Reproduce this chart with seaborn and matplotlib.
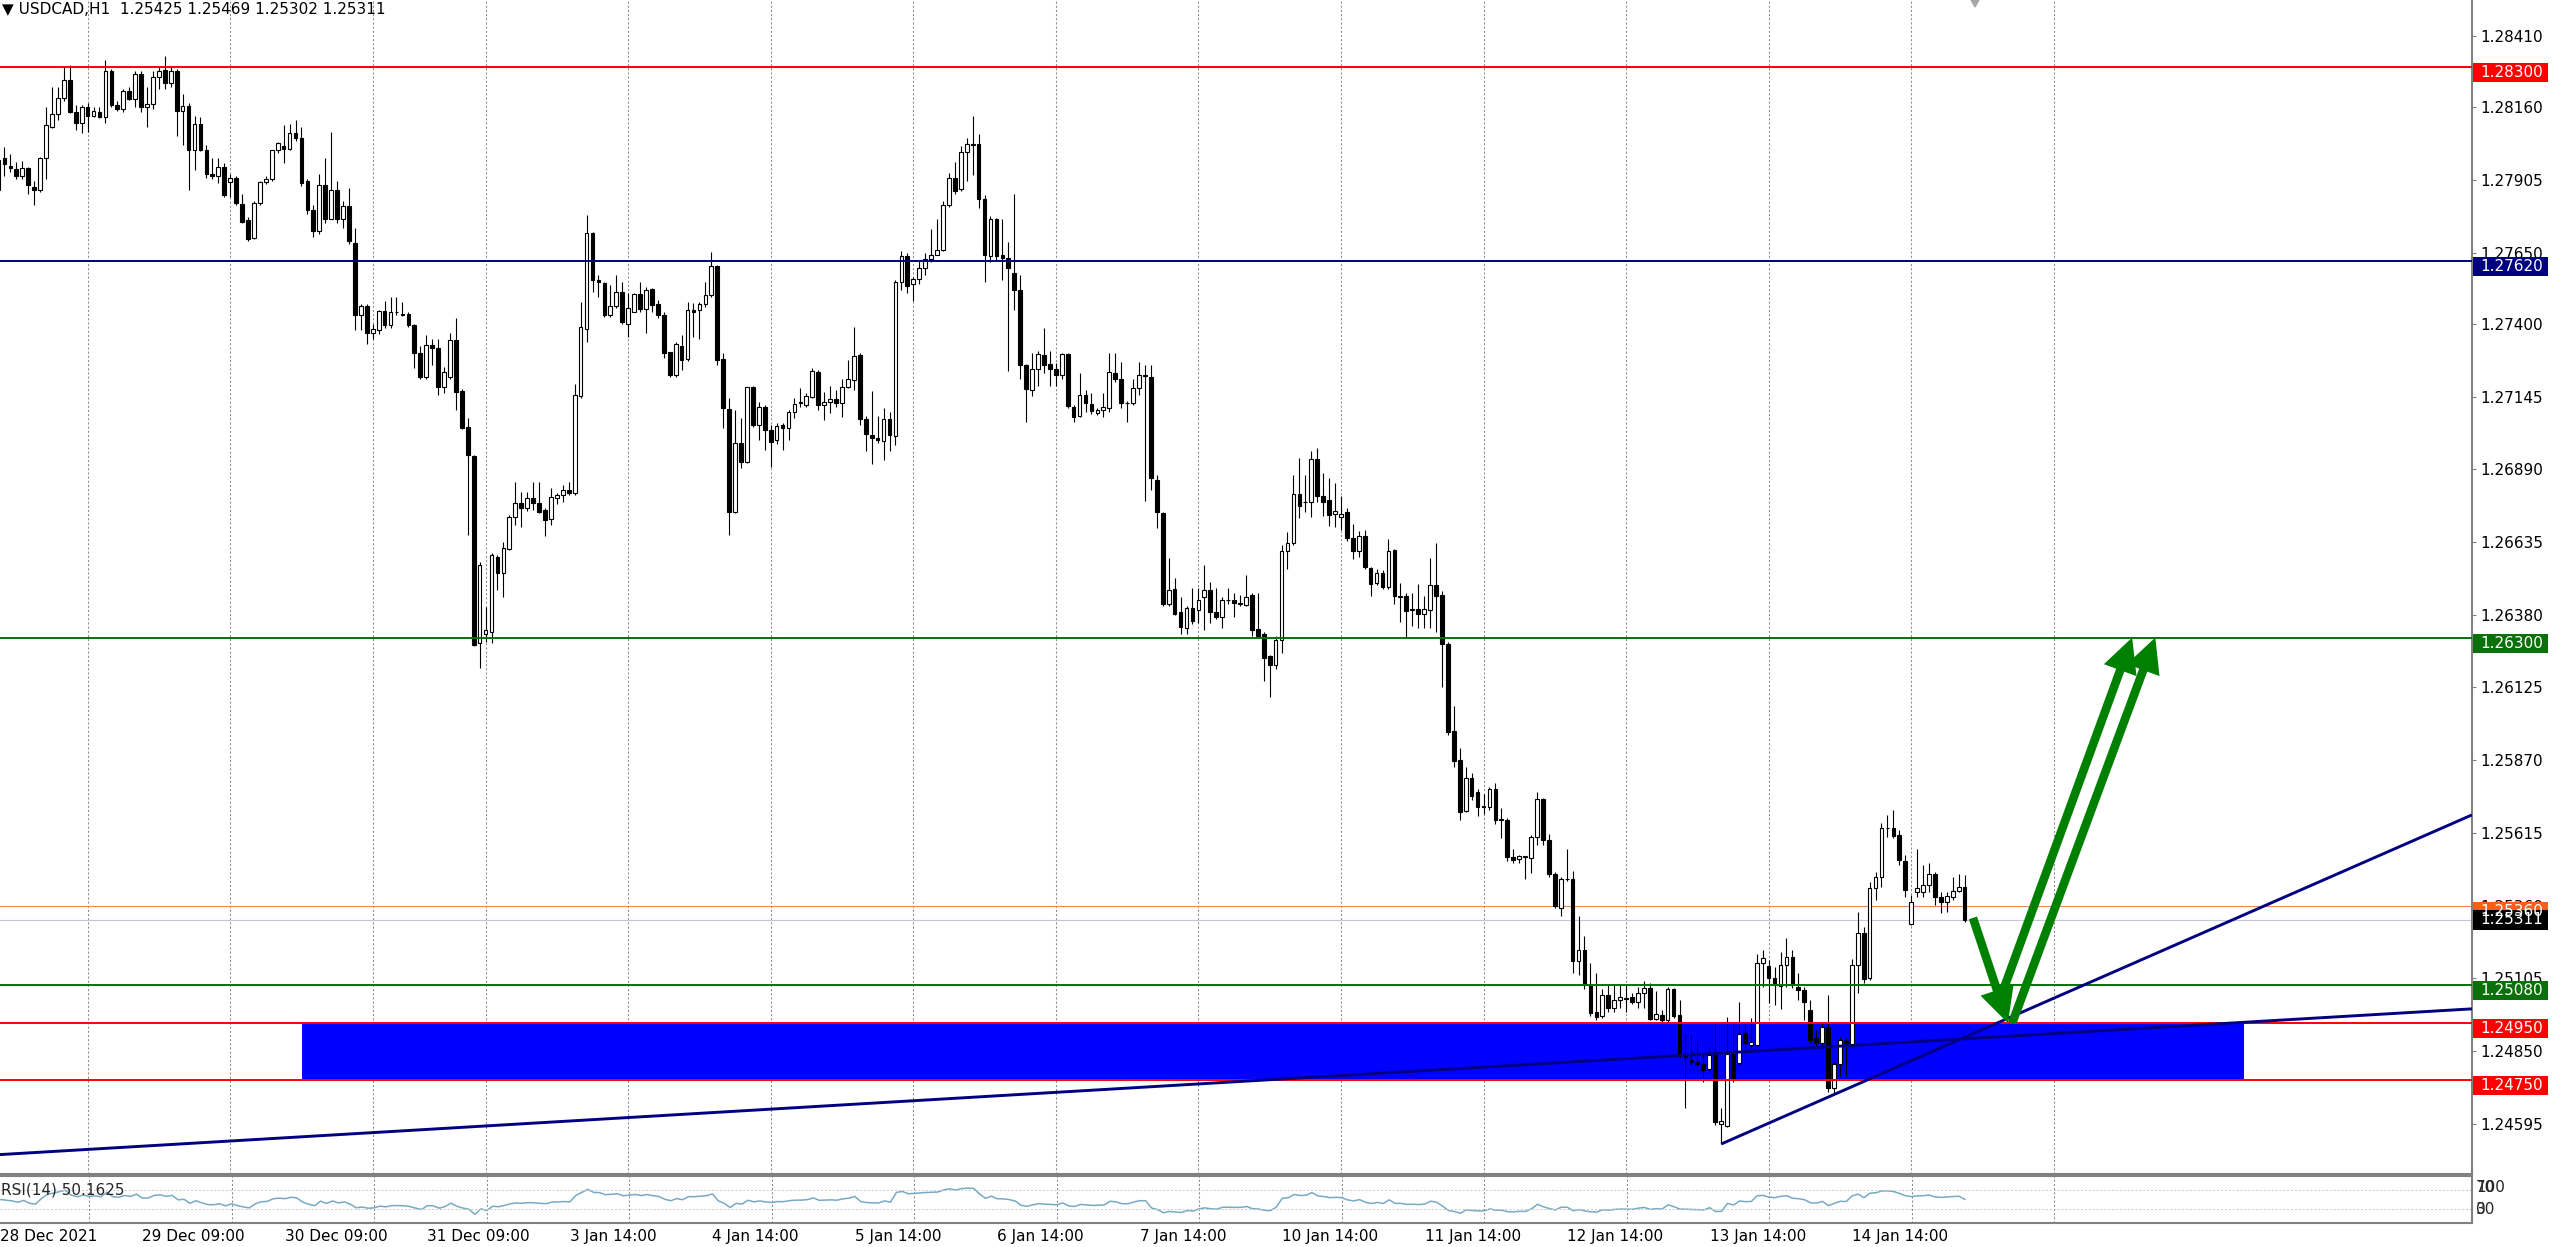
import numpy as np
import pandas as pd
import seaborn as sns
import matplotlib
matplotlib.use("Agg")
import matplotlib.pyplot as plt
from matplotlib.patches import Rectangle, FancyArrowPatch, Polygon

# USDCAD H1 bars, 28 Dec 2021 .. 14 Jan 2022
# prices are in points above 1.20000 (1 point = 0.00001)
opens = [
    7870, 7980, 7955, 7943, 7917, 7946, 7881, 7870, 7980, 8090, 8136, 8191,
    8254, 8144, 8105, 8160, 8128, 8144, 8125, 8285, 8168, 8155, 8215, 8190,
    8277, 8160, 8170, 8266, 8290, 8245, 8285, 8147, 8165, 8011, 8100, 8011,
    7925, 7920, 7950, 7897, 7912, 7820, 7765, 7700, 7823, 7897, 7909, 8008,
    8022, 8014, 8069, 8052, 7900, 7800, 7725, 7886, 7768, 7870, 7768, 7812,
    7682, 7432, 7463, 7369, 7377, 7444, 7396, 7440, 7434, 7436, 7396, 7299,
    7213, 7326, 7314, 7180, 7215, 7345, 7166, 7040, 6936, 6280, 6312, 6320,
    6584, 6525, 6609, 6724, 6773, 6753, 6788, 6773, 6747, 6715, 6788, 6800,
    6817, 6806, 7147, 7381, 7717, 7554, 7542, 7431, 7463, 7513, 7400, 7443,
    7503, 7451, 7521, 7469, 7431, 7300, 7220, 7322, 7276, 7448, 7448, 7470,
    7501, 7603, 7275, 7100, 6741, 6981, 6917, 7177, 7045, 7110, 7028, 6992,
    7045, 7034, 7092, 7127, 7116, 7145, 7232, 7116, 7127, 7138, 7121, 7178,
    7203, 7289, 7065, 7011, 6998, 6990, 7068, 7007, 7545, 7639, 7539, 7556,
    7595, 7626, 7643, 7660, 7815, 7913, 7872, 8002, 8032, 8032, 7837, 7639,
    7766, 7643, 7630, 7578, 7517, 7254, 7169, 7241, 7289, 7260, 7241, 7219,
    7295, 7107, 7076, 7150, 7120, 7089, 7098, 7104, 7228, 7208, 7124, 7124,
    7176, 7219, 7215, 6852, 6735, 6417, 6469, 6388, 6333, 6404, 6397, 6443,
    6466, 6391, 6371, 6432, 6430, 6419, 6414, 6449, 6330, 6311, 6235, 6204,
    6290, 6602, 6631, 6802, 6775, 6777, 6927, 6798, 6781, 6734, 6722, 6741,
    6648, 6602, 6655, 6545, 6490, 6526, 6476, 6608, 6445, 6447, 6397, 6399,
    6382, 6397, 6483, 6450, 6276, 5972, 5872, 5692, 5806, 5760, 5706, 5706,
    5768, 5660, 5660, 5531, 5523, 5531, 5528, 5600, 5735, 5589, 5471, 5353,
    5453, 5453, 5167, 5205, 5081, 4987, 4973, 5045, 5002, 5028, 5034, 5038,
    5023, 5052, 5070, 4962, 4976, 4959, 5066, 4976, 4836, 4819, 4813, 4805,
    4786, 4836, 4594, 4587, 4840, 4809, 4914, 4871, 4871, 5160, 5148, 5105,
    5078, 5152, 5179, 5076, 5064, 4994, 4895, 4877, 4935, 4719, 4805, 4886,
    4871, 5152, 5263, 5105, 5421, 5459, 5631, 5631, 5607, 5518, 5295, 5409,
    5409, 5432, 5471, 5389, 5374, 5391, 5412, 5425,
]
highs = [
    8019, 8020, 7995, 7969, 7972, 7950, 7901, 7985, 8160, 8230, 8230, 8300,
    8308, 8168, 8168, 8175, 8160, 8160, 8325, 8293, 8180, 8225, 8230, 8285,
    8285, 8230, 8285, 8300, 8340, 8300, 8293, 8206, 8175, 8128, 8125, 8027,
    7980, 7980, 7965, 7925, 7917, 7855, 7776, 7831, 7902, 7920, 8011, 8038,
    8097, 8101, 8115, 8089, 7909, 7815, 7925, 7980, 8074, 7901, 7830, 7878,
    7737, 7471, 7471, 7400, 7448, 7479, 7494, 7494, 7475, 7440, 7400, 7322,
    7361, 7346, 7346, 7250, 7367, 7419, 7170, 7069, 6940, 6566, 6408, 6595,
    6590, 6636, 6730, 6847, 6812, 6812, 6847, 6847, 6753, 6823, 6806, 6835,
    6847, 7189, 7478, 7782, 7723, 7571, 7548, 7536, 7571, 7548, 7507, 7507,
    7545, 7530, 7524, 7483, 7443, 7302, 7337, 7361, 7478, 7472, 7478, 7548,
    7653, 7606, 7299, 7139, 7098, 7069, 7180, 7182, 7127, 7116, 7045, 7054,
    7054, 7098, 7139, 7174, 7156, 7244, 7238, 7162, 7182, 7168, 7208, 7273,
    7390, 7299, 7078, 7163, 7078, 7104, 7091, 7552, 7656, 7649, 7565, 7623,
    7649, 7733, 7766, 7831, 7929, 7967, 8025, 8051, 8129, 8064, 7850, 7779,
    7772, 7766, 7688, 7854, 7571, 7260, 7299, 7306, 7387, 7306, 7263, 7299,
    7299, 7117, 7228, 7169, 7159, 7104, 7156, 7296, 7299, 7267, 7130, 7208,
    7267, 7254, 7254, 6871, 6741, 6579, 6508, 6443, 6410, 6475, 6475, 6553,
    6495, 6475, 6443, 6475, 6456, 6449, 6521, 6456, 6456, 6319, 6240, 6304,
    6626, 6669, 6870, 6931, 6870, 6955, 6963, 6877, 6860, 6841, 6798, 6755,
    6698, 6673, 6676, 6548, 6540, 6536, 6645, 6612, 6493, 6455, 6455, 6486,
    6447, 6579, 6630, 6462, 6283, 6061, 5911, 5846, 5825, 5768, 5753, 5775,
    5789, 5703, 5667, 5560, 5538, 5534, 5606, 5758, 5739, 5610, 5477, 5460,
    5560, 5481, 5324, 5252, 5159, 5124, 5066, 5081, 5081, 5081, 5081, 5052,
    5074, 5095, 5088, 5059, 4995, 5073, 5070, 5029, 4912, 4906, 4888, 4836,
    4865, 4947, 4649, 4968, 4953, 5023, 4947, 4965, 5192, 5204, 5169, 5146,
    5198, 5245, 5204, 5122, 5076, 5029, 4924, 4947, 5046, 4813, 4900, 4895,
    5172, 5339, 5286, 5444, 5479, 5651, 5678, 5695, 5625, 5538, 5397, 5557,
    5502, 5508, 5479, 5409, 5409, 5459, 5471, 5469,
]
lows = [
    7823, 7917, 7933, 7909, 7909, 7855, 7815, 7862, 7909, 8085, 8113, 8180,
    8140, 8081, 8069, 8074, 8125, 8120, 8105, 8160, 8145, 8144, 8185, 8160,
    8144, 8090, 8152, 8222, 8222, 8230, 8058, 8027, 7870, 7940, 8005, 7912,
    7909, 7895, 7845, 7846, 7815, 7753, 7690, 7698, 7815, 7890, 7900, 8000,
    7964, 8008, 8040, 7885, 7784, 7706, 7714, 7753, 7768, 7753, 7737, 7680,
    7377, 7377, 7330, 7346, 7365, 7385, 7385, 7432, 7427, 7390, 7244, 7205,
    7205, 7256, 7150, 7156, 7207, 7098, 7030, 6660, 6270, 6192, 6286, 6280,
    6466, 6443, 6607, 6694, 6689, 6745, 6747, 6735, 6656, 6695, 6770, 6777,
    6800, 6800, 7140, 7337, 7513, 7495, 7425, 7425, 7455, 7400, 7355, 7440,
    7440, 7367, 7440, 7420, 7280, 7215, 7215, 7238, 7270, 7355, 7346, 7460,
    7495, 7256, 7034, 6660, 6735, 6893, 6912, 7040, 6992, 6958, 6899, 6980,
    6958, 6992, 7069, 7110, 7110, 7140, 7098, 7063, 7086, 7110, 7075, 7175,
    7169, 7046, 6955, 6907, 6981, 6923, 6955, 6975, 7519, 7507, 7481, 7539,
    7571, 7617, 7643, 7655, 7810, 7857, 7865, 7902, 7922, 7807, 7545, 7617,
    7623, 7552, 7234, 7448, 7208, 7055, 7146, 7182, 7228, 7182, 7182, 7208,
    7104, 7055, 7072, 7091, 7085, 7081, 7072, 7091, 7195, 7104, 7055, 7117,
    7150, 6780, 6819, 6683, 6410, 6410, 6378, 6313, 6313, 6346, 6352, 6326,
    6352, 6365, 6333, 6417, 6371, 6410, 6410, 6307, 6300, 6147, 6092, 6190,
    6247, 6540, 6625, 6719, 6741, 6722, 6777, 6726, 6691, 6688, 6676, 6640,
    6576, 6583, 6540, 6445, 6483, 6469, 6469, 6419, 6355, 6297, 6340, 6333,
    6333, 6333, 6318, 6125, 5960, 5846, 5660, 5689, 5732, 5675, 5682, 5696,
    5646, 5596, 5517, 5510, 5510, 5453, 5474, 5574, 5574, 5460, 5353, 5324,
    5446, 5124, 5116, 5066, 4973, 4959, 4966, 4987, 4987, 5002, 4987, 5016,
    5002, 5002, 4959, 4959, 4952, 4952, 4966, 4830, 4649, 4801, 4795, 4742,
    4778, 4591, 4526, 4585, 4742, 4800, 4865, 4860, 4865, 5076, 5017, 5011,
    4999, 5076, 5070, 5029, 4959, 4877, 4865, 4865, 4708, 4704, 4762, 4760,
    4865, 5052, 5087, 5099, 5380, 5426, 5599, 5596, 5502, 5391, 5292, 5391,
    5391, 5409, 5362, 5333, 5339, 5380, 5409, 5302,
]
closes = [
    7975, 7960, 7947, 7917, 7948, 7886, 7868, 7980, 8097, 8136, 8191, 8254,
    8144, 8105, 8160, 8128, 8146, 8125, 8285, 8168, 8155, 8215, 8190, 8277,
    8160, 8170, 8266, 8288, 8245, 8285, 8147, 8165, 8011, 8100, 8011, 7925,
    7920, 7950, 7850, 7912, 7823, 7757, 7698, 7823, 7897, 7909, 8008, 8034,
    8014, 8069, 8050, 7893, 7800, 7725, 7886, 7768, 7870, 7768, 7812, 7690,
    7432, 7463, 7369, 7381, 7446, 7396, 7440, 7441, 7432, 7396, 7299, 7213,
    7327, 7314, 7180, 7232, 7345, 7162, 7034, 6940, 6274, 6554, 6326, 6590,
    6525, 6613, 6724, 6773, 6753, 6788, 6773, 6741, 6712, 6792, 6800, 6817,
    6806, 7150, 7388, 7717, 7554, 7545, 7431, 7463, 7513, 7408, 7454, 7503,
    7451, 7519, 7466, 7431, 7296, 7220, 7331, 7273, 7448, 7443, 7470, 7501,
    7603, 7273, 7104, 6741, 6981, 6917, 7177, 7045, 7110, 7028, 6987, 7042,
    7034, 7092, 7119, 7122, 7147, 7236, 7115, 7127, 7138, 7121, 7178, 7208,
    7286, 7065, 7014, 6998, 6992, 7068, 7011, 7545, 7639, 7532, 7556, 7595,
    7626, 7643, 7660, 7815, 7913, 7867, 8002, 8032, 8028, 7837, 7643, 7766,
    7639, 7630, 7597, 7520, 7254, 7172, 7241, 7293, 7257, 7241, 7219, 7293,
    7111, 7072, 7150, 7124, 7094, 7098, 7107, 7231, 7208, 7124, 7122, 7176,
    7221, 7217, 6858, 6739, 6417, 6466, 6384, 6336, 6404, 6358, 6432, 6466,
    6391, 6371, 6432, 6430, 6420, 6421, 6443, 6326, 6307, 6230, 6204, 6293,
    6605, 6631, 6802, 6762, 6774, 6927, 6798, 6777, 6731, 6745, 6734, 6648,
    6605, 6655, 6548, 6487, 6526, 6476, 6605, 6445, 6443, 6393, 6397, 6384,
    6399, 6483, 6447, 6276, 5968, 5868, 5689, 5806, 5746, 5706, 5706, 5768,
    5660, 5660, 5531, 5520, 5534, 5531, 5600, 5735, 5589, 5471, 5357, 5453,
    5452, 5167, 5205, 5081, 4985, 4970, 5045, 5002, 5028, 5038, 5033, 5023,
    5052, 5070, 4962, 4980, 4959, 5066, 4973, 4836, 4830, 4813, 4805, 4784,
    4836, 4602, 4606, 4840, 4754, 4910, 4877, 4883, 5160, 5175, 5105, 5082,
    5152, 5179, 5082, 5064, 5023, 4889, 4877, 4935, 4719, 4805, 4889, 4877,
    5152, 5263, 5101, 5421, 5459, 5631, 5631, 5604, 5520, 5415, 5373, 5421,
    5432, 5471, 5389, 5374, 5394, 5412, 5426, 5311,
]

price_ticks = [1.28410, 1.28160, 1.27905, 1.27650, 1.27400, 1.27145, 1.26890,
               1.26635, 1.26380, 1.26125, 1.25870, 1.25615, 1.25360, 1.25105,
               1.24850, 1.24595]

time_labels = ["28 Dec 2021", "29 Dec 09:00", "30 Dec 09:00", "31 Dec 09:00",
               "3 Jan 14:00", "4 Jan 14:00", "5 Jan 14:00", "6 Jan 14:00",
               "7 Jan 14:00", "10 Jan 14:00", "11 Jan 14:00", "12 Jan 14:00",
               "13 Jan 14:00", "14 Jan 14:00"]
label_bars = [0, 24, 48, 72, 96, 120, 144, 168, 192, 216, 240, 264, 288, 312]
grid_bars = [15, 39, 63, 82, 106, 130, 154, 178, 202, 226, 250, 274, 298, 322, 346]

# horizontal levels drawn on the chart
level_prices = [1.28300, 1.27620, 1.26300, 1.25080, 1.24950, 1.24750]
bid_price = 1.25311
ask_price = 1.25360

# support zone, trendlines and the arrows of the trade idea (bar index, price)
zone_bars = [51.1, 378.0]
zone_prices = [1.24750, 1.24950]
trend_long = ([0.25, 416.4], [1.24487, 1.24998])
trend_short = ([290.0, 416.4], [1.24524, 1.25678])
arrow_down = ((332.4, 1.25317), (338.3, 1.24948))
arrows_up = [((337.5, 1.25064), (359.2, 1.26300)),
             ((339.0, 1.24948), (363.1, 1.26300))]

# ---- styles / layout ----
RED, NAVY, GREEN = "#ff0000", "#000080", "#0a700a"
level_colors = [RED, NAVY, GREEN, GREEN, RED, RED]
W, H = 2560, 1247
PLOT_R, MAIN_B, RSI_T, RSI_B = 2472, 1174, 1176, 1223
BAR0, STEP = -1.5, 5.94          # pixel of bar 0, pixels per bar
K = 28519.0                      # pixels per 1.0 of price
Y_TOP = 1.285355
Y_BOT = Y_TOP - MAIN_B / K

sns.set_theme(style="white")
plt.rcParams["font.family"] = ["DejaVu Sans"]

fig = plt.figure(figsize=(W / 100, H / 100), dpi=100, facecolor="white")
ax = fig.add_axes([0, 1 - MAIN_B / H, PLOT_R / W, MAIN_B / H])
rx = fig.add_axes([0, 1 - RSI_B / H, PLOT_R / W, (RSI_B - RSI_T) / H])

o = 1.2 + np.array(opens) * 1e-5
h = 1.2 + np.array(highs) * 1e-5
l = 1.2 + np.array(lows) * 1e-5
c = 1.2 + np.array(closes) * 1e-5
x = np.arange(len(closes))
rising = c >= o
body_low = np.minimum(o, c)
body_h = np.maximum(np.abs(c - o), 0.6 / K)

# candles
ax.vlines(x, l, h, colors="black", linewidth=0.8, zorder=3)
ax.bar(x[rising], body_h[rising], bottom=body_low[rising], width=0.62,
       color="white", edgecolor="black", linewidth=0.8, zorder=3.2)
ax.bar(x[~rising], body_h[~rising], bottom=body_low[~rising], width=0.62,
       color="black", edgecolor="black", linewidth=0.8, zorder=3.2)

# support zone (background)
ax.add_patch(Rectangle((zone_bars[0], zone_prices[0]), zone_bars[1] - zone_bars[0],
                       zone_prices[1] - zone_prices[0], facecolor="#0000ff",
                       edgecolor="none", zorder=1))

for p, col in zip(level_prices, level_colors):
    ax.axhline(p, color=col, linewidth=1.4, zorder=4)
ax.axhline(ask_price, color="#e8885a", linewidth=0.8, zorder=2)
ax.axhline(bid_price, color="#c4c8dc", linewidth=0.8, zorder=2)

for bx, py in (trend_long, trend_short):
    ax.plot(bx, py, color=NAVY, linewidth=2.1, zorder=5, solid_capstyle="butt")

for tail, tip in [arrow_down] + arrows_up:
    ax.add_patch(FancyArrowPatch(tail, tip,
                                 arrowstyle="simple,head_length=25,head_width=25,tail_width=6.2",
                                 mutation_scale=1, color="#008000", lw=0,
                                 shrinkA=0, shrinkB=0, zorder=6))

# chart shift marker at the top
sx = (1975 - BAR0) / STEP
ax.add_patch(Polygon([(sx - 1.2, Y_TOP + 0.0002), (sx + 1.2, Y_TOP + 0.0002),
                      (sx, Y_TOP - 7 / K)], closed=True, color="#a8a8a8", zorder=6))

xlim = ((0 - BAR0) / STEP, (PLOT_R - BAR0) / STEP)
ax.set_xlim(*xlim)
ax.set_ylim(Y_BOT, Y_TOP)
ax.set_facecolor("white")

# vertical dotted grid
ax.set_xticks(grid_bars)
ax.tick_params(axis="x", length=0, labelbottom=False)
ax.grid(True, axis="x", linestyle=(0, (2, 2)), color="#8a8a8a", linewidth=0.75)
ax.grid(False, axis="y")

# price axis on the right
ax.yaxis.tick_right()
ax.set_yticks(price_ticks)
ax.set_yticklabels([f"{t:.5f}" for t in price_ticks])
ax.tick_params(axis="y", length=3, width=0.8, color="#808080", pad=3,
               labelsize=11, labelcolor="black", right=True, left=False)

for s in ("top", "left"):
    ax.spines[s].set_visible(False)
for s in ("right", "bottom"):
    ax.spines[s].set_color("#808080")
    ax.spines[s].set_linewidth(1.5)

# coloured price labels
yax = ax.get_yaxis_transform()
box_x0, box_w = 2473 / PLOT_R, 75 / PLOT_R
text_x = 2480 / PLOT_R


def price_box(p, col, centered=False):
    if centered:
        bottom, hgt, ty = p - 10 / K, 20 / K, p
    else:
        bottom, hgt, ty = p - 15 / K, 19 / K, p - 5.5 / K
    ax.add_patch(Rectangle((box_x0, bottom), box_w, hgt, transform=yax,
                           facecolor=col, edgecolor="none", clip_on=False, zorder=7))
    ax.text(text_x, ty, f"{p:.5f}", transform=yax, color="white", fontsize=11,
            va="center", ha="left", clip_on=False, zorder=8)


for p, col in zip(level_prices, level_colors):
    price_box(p, col)
price_box(ask_price, "#f2601e")
price_box(bid_price, "black", centered=True)

# RSI panel
rsi = []
avg_gain = avg_loss = 20.0
prev = closes[0]
for cl in closes:
    d = cl - prev
    avg_gain = (avg_gain * 13 + max(d, 0)) / 14
    avg_loss = (avg_loss * 13 + max(-d, 0)) / 14
    rsi.append(100 - 100 / (1 + avg_gain / avg_loss))
    prev = cl
rsi_df = pd.DataFrame({"bar": x, "rsi": rsi})
sns.lineplot(data=rsi_df, x="bar", y="rsi", ax=rx, color="#78aac4",
             linewidth=1.1, legend=False)
rx.set_xlim(*xlim)
rx.set_ylim(0, 100)
rx.set_xlabel("")
rx.set_ylabel("")
rx.set_yticks([])
for lvl in (70, 30):
    rx.axhline(lvl, color="#c8c8c8", linestyle=(0, (2, 2)), linewidth=0.7)
rx.set_xticks(label_bars)
rx.set_xticklabels(time_labels, ha="left")
rx.tick_params(axis="x", length=0, pad=4, labelsize=11, labelcolor="black")
rx.set_xticks(grid_bars, minor=True)
rx.tick_params(axis="x", which="minor", length=0)
rx.grid(True, which="minor", axis="x", linestyle=(0, (2, 2)), color="#8a8a8a", linewidth=0.75)
rx.spines["left"].set_visible(False)
for s in ("top", "right", "bottom"):
    rx.spines[s].set_color("#808080")
    rx.spines[s].set_linewidth(1.5)


def fx(px):
    return px / W


def fy(py):
    return 1 - py / H


fig.text(fx(2), fy(10), "\u25BC USDCAD,H1  1.25425 1.25469 1.25302 1.25311",
         fontsize=11, va="center", ha="left", color="black")
fig.text(fx(1), fy(1190), "RSI(14) 50.1625", fontsize=11, va="center", ha="left")
# MT4 stacks the RSI level labels on top of each other in this thin panel
for lab, py in (("100", 1187), ("70", 1187), ("30", 1210), ("0", 1210)):
    fig.text(fx(2476), fy(py), lab, fontsize=11, va="center", ha="left")

fig.savefig("out.png", dpi=100, facecolor="white")
